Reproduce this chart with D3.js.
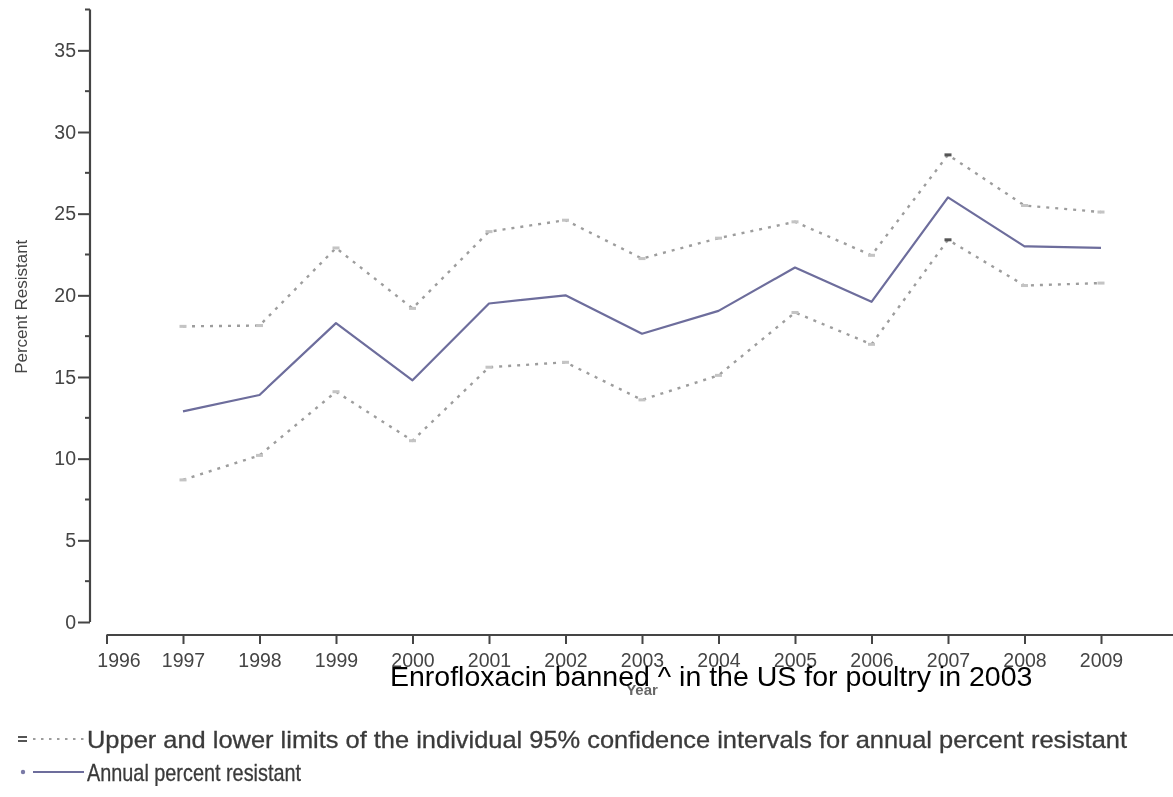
<!DOCTYPE html>
<html>
<head>
<meta charset="utf-8">
<script src="https://cdn.jsdelivr.net/npm/d3@7"></script>
<style>
  html, body { margin: 0; padding: 0; background: #fff; }
  svg { display: block; }
</style>
</head>
<body>
<svg id="chart" width="1173" height="797"></svg>
<script>
// Annual fluoroquinolone resistance, 1997–2009, with 95% confidence limits
const years = [1997, 1998, 1999, 2000, 2001, 2002, 2003, 2004, 2005, 2006, 2007, 2008, 2009];
const annualPct = [12.9, 13.9, 18.3, 14.8, 19.5, 20.0, 17.65, 19.05, 21.7, 19.6, 26.0, 23.0, 22.9];
const upperCI  = [18.1, 18.15, 22.9, 19.2, 23.9, 24.6, 22.25, 23.5, 24.5, 22.45, 28.6, 25.5, 25.1];
const lowerCI  = [8.7, 10.2, 14.1, 11.1, 15.6, 15.9, 13.6, 15.1, 18.95, 17.0, 23.4, 20.6, 20.75];
const xTickYears = [1996, 1997, 1998, 1999, 2000, 2001, 2002, 2003, 2004, 2005, 2006, 2007, 2008, 2009];
const yMajorTicks = [0, 5, 10, 15, 20, 25, 30, 35];
const yMinorTicks = [2.5, 7.5, 12.5, 17.5, 22.5, 27.5, 32.5, 37.5];
const legendLabels = [
  "Upper and lower limits of the individual 95% confidence intervals for annual percent resistant",
  "Annual percent resistant"
];
const noteText = "Enrofloxacin banned ^ in the US for poultry in 2003";
const highlightYear = 2007;

const svg = d3.select("#chart");

// soft rendering for the plotted graphic
const defs = svg.append("defs");
defs.append("filter").attr("id", "soft")
  .attr("x", "-5%").attr("y", "-5%").attr("width", "110%").attr("height", "110%")
  .append("feGaussianBlur").attr("stdDeviation", 0.7);

const g = svg.append("g").attr("filter", "url(#soft)");

const x = d3.scaleLinear().domain([1996, 2010]).range([106.5, 1177.5]);
const y = d3.scaleLinear().domain([0, 37.5]).range([622, 9.5]);

const axisColor = "#454545";
const labelColor = "#444";
const fontFam = "'Liberation Sans', Arial, sans-serif";

// Y axis
const yAxisX = 90;
const yAxisG = g.append("g").attr("transform", `translate(${yAxisX},0)`);
yAxisG.call(d3.axisLeft(y).tickValues(yMajorTicks).tickSize(12).tickPadding(2).tickFormat(d3.format("d")))
  .call(s => s.select(".domain").attr("stroke", axisColor).attr("stroke-width", 2.2).attr("d", `M0,${y(0)}V${y(37.5)}`))
  .call(s => s.selectAll(".tick line").attr("stroke", axisColor).attr("stroke-width", 2))
  .call(s => s.selectAll(".tick text").attr("fill", labelColor).attr("font-size", 19.5).attr("font-family", fontFam));
yAxisG.append("g").selectAll("line").data(yMinorTicks).join("line")
  .attr("x1", -5).attr("x2", 0).attr("y1", d => y(d)).attr("y2", d => y(d))
  .attr("stroke", axisColor).attr("stroke-width", 2);

// X axis
const xAxisY = 635;
const xAxisG = g.append("g").attr("transform", `translate(0,${xAxisY})`);
xAxisG.call(d3.axisBottom(x).tickValues(xTickYears).tickSize(9).tickPadding(9).tickFormat(d3.format("d")))
  .call(s => s.select(".domain").attr("stroke", axisColor).attr("stroke-width", 2.2).attr("d", `M${x(1996)},0H${x(2010)}`))
  .call(s => s.selectAll(".tick line").attr("stroke", axisColor).attr("stroke-width", 2))
  .call(s => s.selectAll(".tick text").attr("fill", labelColor).attr("font-size", 19.5).attr("font-family", fontFam))
  .call(s => s.selectAll(".tick").filter(d => d === 1996).select("text").attr("dx", 12));

// axis titles
g.append("text")
  .attr("transform", `translate(27,${y(19.3)}) rotate(-90)`)
  .attr("text-anchor", "middle")
  .attr("font-family", fontFam).attr("font-size", 17).attr("fill", labelColor)
  .text("Percent Resistant");
g.append("text")
  .attr("x", x(2003)).attr("y", 695)
  .attr("text-anchor", "middle")
  .attr("font-family", fontFam).attr("font-size", 15).attr("font-weight", "bold").attr("fill", "#666")
  .text("Year");

// data lines
const rows = years.map((yr, i) => ({ yr, a: annualPct[i], u: upperCI[i], l: lowerCI[i] }));
const lineOf = key => d3.line().x(d => x(d.yr)).y(d => y(d[key]));

const ciColor = "#9d9d9d";
["u", "l"].forEach(k => {
  g.append("path").datum(rows)
    .attr("d", lineOf(k))
    .attr("fill", "none").attr("stroke", ciColor).attr("stroke-width", 2.4)
    .attr("stroke-dasharray", "3,6");
  g.append("g").selectAll("rect").data(rows).join("rect")
    .attr("x", d => x(d.yr) - 3.5).attr("y", d => y(d[k]) - 1.5)
    .attr("width", 7).attr("height", 3)
    .attr("fill", d => d.yr === highlightYear ? "#555" : "#c4c4c4");
});

const mainColor = "#6d6d9c";
g.append("path").datum(rows)
  .attr("d", lineOf("a"))
  .attr("fill", "none").attr("stroke", mainColor).attr("stroke-width", 2.2)
  .attr("stroke-linejoin", "round");

// legend
const legFont = "'Liberation Sans Narrow', 'Arial Narrow', 'Liberation Sans', Arial, sans-serif";
const leg1 = 739, leg2 = 772;
g.append("rect").attr("x", 18).attr("y", leg1 - 3).attr("width", 9).attr("height", 2).attr("fill", "#555");
g.append("rect").attr("x", 18).attr("y", leg1 + 1).attr("width", 9).attr("height", 2).attr("fill", "#555");
g.append("line").attr("x1", 33).attr("x2", 84).attr("y1", leg1).attr("y2", leg1)
  .attr("stroke", ciColor).attr("stroke-width", 2).attr("stroke-dasharray", "2.5,5.5");
g.append("text").attr("x", 87).attr("y", leg1 + 8.5)
  .attr("font-family", legFont).attr("font-size", 24).attr("fill", "#3a3a3a")
  .attr("stroke", "#3a3a3a").attr("stroke-width", 0.3)
  .attr("textLength", 1040).attr("lengthAdjust", "spacingAndGlyphs")
  .text(legendLabels[0]);

g.append("circle").attr("cx", 23).attr("cy", leg2).attr("r", 2.2).attr("fill", "#7a7aa6");
g.append("line").attr("x1", 33).attr("x2", 84).attr("y1", leg2).attr("y2", leg2)
  .attr("stroke", mainColor).attr("stroke-width", 2);
g.append("text").attr("x", 87).attr("y", leg2 + 8.5)
  .attr("font-family", legFont).attr("font-size", 24).attr("fill", "#3a3a3a")
  .attr("stroke", "#3a3a3a").attr("stroke-width", 0.3)
  .attr("textLength", 214).attr("lengthAdjust", "spacingAndGlyphs")
  .text(legendLabels[1]);

// annotation drawn crisp on top
svg.append("text")
  .attr("x", 390).attr("y", 686)
  .attr("font-family", "'Liberation Sans', Arial, sans-serif")
  .attr("font-size", 28.5).attr("fill", "#000")
  .text(noteText);
</script>
</body>
</html>
